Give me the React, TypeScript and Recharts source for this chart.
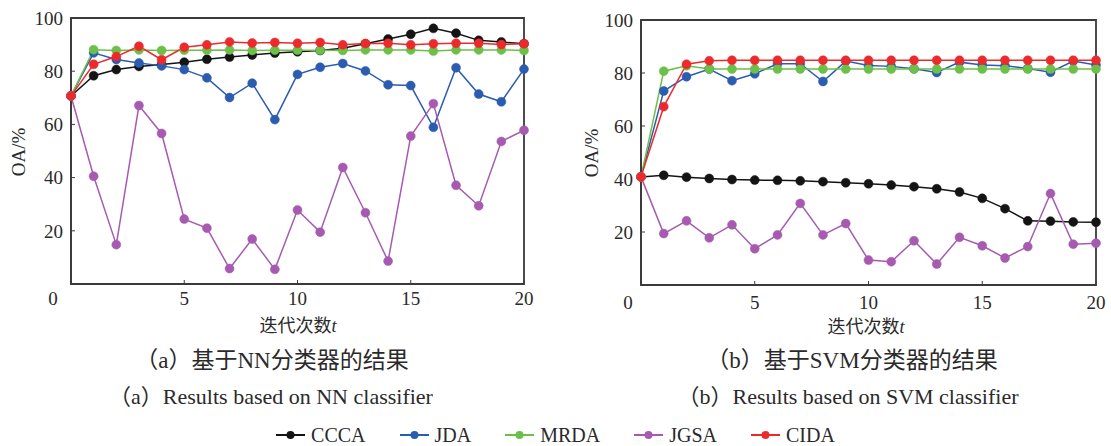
import { Line, LineChart, ReferenceArea, XAxis, YAxis } from "recharts";

const SERIF = '"Liberation Serif", "Times New Roman", Tinos, "DejaVu Serif", "Noto Sans CJK SC", serif';
const INK = "#2a2a2a";

const iterations = [0, 1, 2, 3, 4, 5, 6, 7, 8, 9, 10, 11, 12, 13, 14, 15, 16, 17, 18, 19, 20];
const seriesNames = ["CCCA", "JDA", "MRDA", "JGSA", "CIDA"];
const seriesColors = ["#141414", "#2c5cb0", "#6cbf48", "#a65bb1", "#ec2a2c"];
const xTicks = [0, 5, 10, 15, 20];
const yTicks = [20, 40, 60, 80, 100];

// (a) NN classifier
const nnCCCA = [70.7, 78.3, 80.6, 81.8, 82.5, 83.4, 84.5, 85.3, 86.1, 86.8, 87.3, 87.8, 88.6, 90.3, 92.1, 93.9, 96.1, 94.3, 91.6, 91.0, 90.3];
const nnJDA = [70.7, 86.9, 84.4, 83.1, 82.0, 80.6, 77.5, 70.1, 75.5, 61.8, 78.8, 81.5, 82.9, 80.1, 74.9, 74.6, 58.9, 81.3, 71.4, 68.5, 80.8];
const nnMRDA = [70.7, 88.1, 87.8, 88.0, 87.8, 87.9, 87.9, 88.0, 87.8, 87.9, 87.9, 87.9, 87.8, 88.0, 88.0, 88.0, 87.6, 88.0, 88.0, 88.0, 87.8];
const nnJGSA = [70.7, 40.5, 14.8, 67.1, 56.6, 24.4, 21.0, 5.8, 16.9, 5.5, 27.8, 19.5, 43.8, 26.8, 8.6, 55.6, 67.8, 37.1, 29.4, 53.6, 57.8];
const nnCIDA = [70.7, 82.6, 85.5, 89.4, 84.3, 89.0, 89.9, 91.0, 90.6, 90.8, 90.5, 90.8, 89.9, 90.4, 90.5, 89.9, 90.3, 90.5, 90.5, 90.0, 90.3];

// (b) SVM classifier
const svmCCCA = [40.8, 41.4, 40.7, 40.2, 39.8, 39.6, 39.5, 39.3, 39.0, 38.6, 38.2, 37.7, 37.1, 36.3, 35.1, 32.7, 28.8, 24.2, 24.1, 23.8, 23.7];
const svmJDA = [40.8, 73.2, 78.6, 81.5, 77.1, 79.7, 83.5, 83.5, 76.8, 84.5, 82.8, 82.5, 81.6, 80.2, 84.1, 83.0, 82.7, 81.7, 80.3, 84.5, 83.0];
const svmMRDA = [40.8, 80.7, 82.7, 81.5, 81.5, 81.5, 81.5, 81.5, 81.5, 81.5, 81.5, 81.5, 81.5, 81.5, 81.5, 81.5, 81.5, 81.5, 81.5, 81.5, 81.5];
const svmJGSA = [40.8, 19.4, 24.2, 17.8, 22.7, 13.7, 18.9, 30.8, 18.9, 23.2, 9.4, 8.8, 16.7, 7.9, 18.0, 14.8, 10.2, 14.5, 34.5, 15.4, 15.8];
const svmCIDA = [40.8, 67.3, 83.3, 84.6, 84.8, 84.8, 84.8, 84.8, 84.8, 84.8, 84.8, 84.8, 84.8, 84.8, 84.8, 84.8, 84.8, 84.8, 84.8, 84.8, 84.8];

function buildRows(series: number[][]) {
  return iterations.map((t, i) => {
    const row: Record<string, number> = { t };
    seriesNames.forEach((name, k) => {
      row[name] = series[k][i];
    });
    return row;
  });
}

const nnData = buildRows([nnCCCA, nnJDA, nnMRDA, nnJGSA, nnCIDA]);
const svmData = buildRows([svmCCCA, svmJDA, svmMRDA, svmJGSA, svmCIDA]);

function makeXTick(zeroShift: number) {
  return function XTick({ x, y, payload }: any) {
    const shift = payload.value === 0 ? zeroShift : 0;
    return (
      <text
        x={x + shift}
        y={y}
        dy="0.71em"
        textAnchor="middle"
        fontSize={19}
        fontFamily={SERIF}
        fill={INK}
      >
        {payload.value}
      </text>
    );
  };
}

interface PanelProps {
  data: Array<Record<string, number>>;
  left: number;
  width: number;
  marginTop: number;
  marginRight: number;
  yAxisWidth: number;
  xAxisHeight: number;
  xTickMargin: number;
  zeroShift: number;
}

function Panel({
  data,
  left,
  width,
  marginTop,
  marginRight,
  yAxisWidth,
  xAxisHeight,
  xTickMargin,
  zeroShift,
}: PanelProps) {
  return (
    <div style={{ position: "absolute", left, top: 0 }}>
      <LineChart
        width={width}
        height={320}
        data={data}
        margin={{ top: marginTop, right: marginRight, bottom: 0, left: 0 }}
      >
        <XAxis
          dataKey="t"
          type="number"
          domain={[0, 20]}
          ticks={xTicks}
          height={xAxisHeight}
          axisLine={{ stroke: "#3a3a3a", strokeWidth: 1.8 }}
          tickLine={{ stroke: "#3a3a3a", strokeWidth: 1 }}
          tickSize={-4}
          tickMargin={xTickMargin}
          tick={makeXTick(zeroShift)}
        />
        <YAxis
          type="number"
          domain={[0, 100]}
          ticks={yTicks}
          width={yAxisWidth}
          axisLine={{ stroke: "#3a3a3a", strokeWidth: 1.8 }}
          tickLine={{ stroke: "#3a3a3a", strokeWidth: 1 }}
          tickSize={-4}
          tickMargin={12}
          tick={{ fontSize: 19, fontFamily: SERIF, fill: INK }}
        />
        <ReferenceArea
          x1={0}
          x2={20}
          y1={0}
          y2={100}
          fill="none"
          fillOpacity={0}
          stroke="#3a3a3a"
          strokeWidth={1.8}
          ifOverflow="extendDomain"
        />
        {seriesNames.map((name, k) => (
          <Line
            key={name}
            dataKey={name}
            type="linear"
            stroke={seriesColors[k]}
            strokeWidth={1.5}
            dot={{ r: 4.5, fill: seriesColors[k], stroke: seriesColors[k], strokeWidth: 0.5 }}
            isAnimationActive={false}
          />
        ))}
      </LineChart>
    </div>
  );
}

const absText = (x: number, y: number, size: number): React.CSSProperties => ({
  position: "absolute",
  left: x,
  top: y,
  transform: "translate(-50%, -50%)",
  whiteSpace: "nowrap",
  fontFamily: SERIF,
  fontSize: size,
  color: INK,
  lineHeight: 1,
});

export default function App() {
  return (
    <div
      style={{
        position: "absolute",
        left: 0,
        top: 0,
        width: 1111,
        height: 446,
        background: "#fff",
        overflow: "hidden",
      }}
    >
      <Panel
        data={nnData}
        left={0}
        width={540}
        marginTop={18}
        marginRight={16}
        yAxisWidth={71}
        xAxisHeight={36}
        xTickMargin={12}
        zeroShift={-18}
      />
      <Panel
        data={svmData}
        left={560}
        width={551}
        marginTop={20}
        marginRight={15}
        yAxisWidth={81}
        xAxisHeight={35}
        xTickMargin={15}
        zeroShift={-13}
      />

      <div style={{ ...absText(18, 152, 19), transform: "translate(-50%, -50%) rotate(-90deg)" }}>OA/%</div>
      <div style={{ ...absText(591, 153, 19), transform: "translate(-50%, -50%) rotate(-90deg)" }}>OA/%</div>

      <div style={absText(298, 326, 18)}>
        迭代次数<i>t</i>
      </div>
      <div style={absText(866, 327, 18)}>
        迭代次数<i>t</i>
      </div>

      <div style={absText(272, 360, 23)}>（a）基于NN分类器的结果</div>
      <div style={absText(852, 360, 23)}>（b）基于SVM分类器的结果</div>
      <div style={absText(271, 397, 22)}>（a）Results based on NN classifier</div>
      <div style={absText(848, 397, 22)}>（b）Results based on SVM classifier</div>

      <div
        style={{
          position: "absolute",
          left: 0,
          top: 425,
          width: 1111,
          display: "flex",
          justifyContent: "center",
          gap: 34,
          fontFamily: SERIF,
          fontSize: 20,
          color: INK,
          lineHeight: "20px",
        }}
      >
        {seriesNames.map((name, k) => (
          <div key={name} style={{ display: "flex", alignItems: "center", gap: 6 }}>
            <svg width={29} height={12}>
              <line x1={0} y1={6} x2={29} y2={6} stroke={seriesColors[k]} strokeWidth={2} />
              <circle cx={14.5} cy={6} r={4} fill={seriesColors[k]} />
            </svg>
            <span>{name}</span>
          </div>
        ))}
      </div>
    </div>
  );
}
